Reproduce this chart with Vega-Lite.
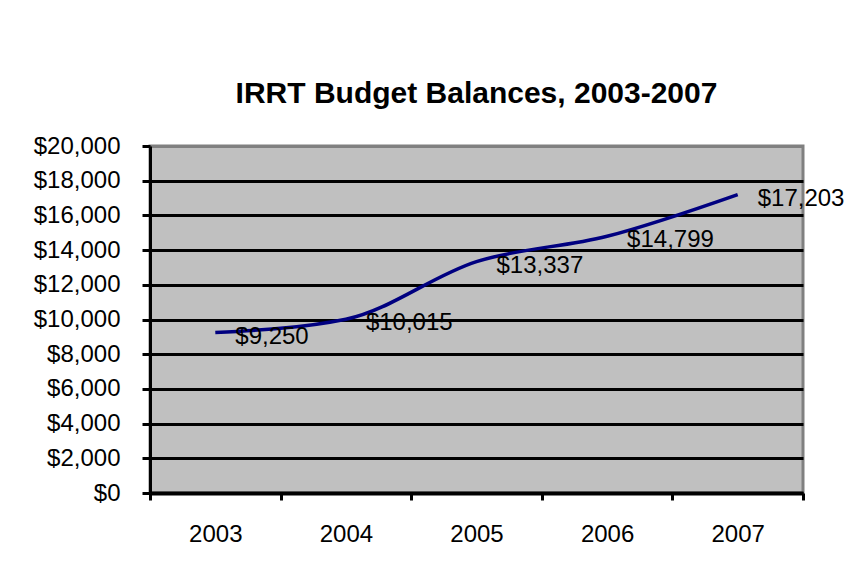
{
  "$schema": "https://vega.github.io/schema/vega-lite/v6.json",
  "autosize": {"type": "none"},
  "width": 653,
  "height": 347,
  "padding": {"left": 150, "top": 146, "right": 52, "bottom": 94},
  "background": "white",
  "title": {
    "text": "IRRT Budget Balances, 2003-2007",
    "font": "Liberation Sans",
    "fontSize": 30,
    "fontWeight": "bold",
    "color": "black",
    "anchor": "middle",
    "frame": "group",
    "baseline": "alphabetic",
    "offset": 1
  },
  "config": {
    "view": {"fill": "#C0C0C0", "stroke": "#808080", "strokeWidth": 3},
    "axis": {
      "labelFont": "Liberation Sans",
      "labelFontSize": 24,
      "labelColor": "black",
      "domainColor": "black",
      "tickColor": "black",
      "title": null
    }
  },
  "data": {
    "values": [
      {"year": 2003, "balance": 9250, "label": "$9,250"},
      {"year": 2004, "balance": 10015, "label": "$10,015"},
      {"year": 2005, "balance": 13337, "label": "$13,337"},
      {"year": 2006, "balance": 14799, "label": "$14,799"},
      {"year": 2007, "balance": 17203, "label": "$17,203"}
    ]
  },
  "encoding": {
    "x": {
      "field": "year",
      "type": "quantitative",
      "scale": {"domain": [2002.5, 2007.5], "nice": false, "zero": false},
      "axis": {
        "values": [2002.5, 2003.5, 2004.5, 2005.5, 2006.5, 2007.5],
        "labelExpr": "datum.value < 2007 ? format(datum.value + 0.5, 'd') : ''",
        "labelOffset": 65.3,
        "labelPadding": 22,
        "labelFlush": false,
        "labelOverlap": false,
        "grid": false,
        "domainWidth": 4,
        "tickSize": 7,
        "tickWidth": 3
      }
    },
    "y": {
      "field": "balance",
      "type": "quantitative",
      "scale": {"domain": [0, 20000], "nice": false},
      "axis": {
        "values": [0, 2000, 4000, 6000, 8000, 10000, 12000, 14000, 16000, 18000, 20000],
        "format": "$,.0f",
        "labelPadding": 22,
        "labelFlush": false,
        "labelOverlap": false,
        "grid": true,
        "gridColor": {"condition": {"test": "datum.value === 20000", "value": "#808080"}, "value": "black"},
        "gridWidth": 3,
        "gridOpacity": 1,
        "domainWidth": 3,
        "tickSize": 8,
        "tickWidth": 3
      }
    }
  },
  "layer": [
    {
      "mark": {"type": "line", "color": "#000080", "strokeWidth": 3.5, "interpolate": "monotone"}
    },
    {
      "mark": {
        "type": "text",
        "align": "left",
        "baseline": "middle",
        "dx": 20,
        "dy": 4,
        "font": "Liberation Sans",
        "fontSize": 24,
        "color": "black"
      },
      "encoding": {"text": {"field": "label"}}
    }
  ]
}
